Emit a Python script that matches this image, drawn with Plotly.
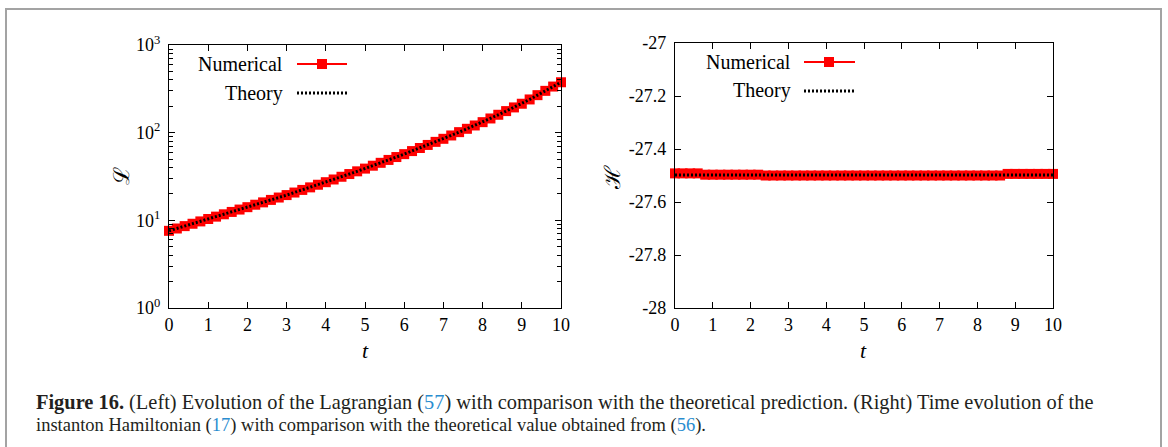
import plotly.graph_objects as go

W, H = 1168, 447

# ---------------- data ----------------
t_vals = [round(0.2 * i, 1) for i in range(51)]
lagrangian_num = [7.59, 8.07, 8.59, 9.14, 9.72, 10.35, 11.02, 11.72, 12.47, 13.27,
                  14.13, 15.07, 16.03, 17.10, 18.20, 19.41, 20.75, 22.23, 23.77, 25.47,
                  27.23, 29.24, 31.41, 33.73, 36.22, 38.90, 41.98, 45.29, 48.87, 52.72,
                  56.89, 61.66, 66.83, 72.44, 78.52, 85.11, 92.90, 101.4, 110.7, 120.8,
                  131.8, 145.2, 160.0, 176.2, 194.1, 213.8, 239.3, 267.9, 299.9, 335.7,
                  375.8]
lagrangian_theory = [7.59, 8.07, 8.59, 9.14, 9.72, 10.35, 11.02, 11.72, 12.47, 13.27,
                     14.13, 15.07, 16.03, 17.10, 18.20, 19.41, 20.75, 22.23, 23.77, 25.47,
                     27.23, 29.24, 31.41, 33.73, 36.22, 38.90, 41.98, 45.29, 48.87, 52.72,
                     56.89, 61.66, 66.83, 72.44, 78.52, 85.11, 92.90, 101.4, 110.7, 120.8,
                     131.8, 145.2, 160.0, 176.2, 194.1, 213.8, 239.3, 267.9, 299.9, 335.7,
                     375.8]
hamiltonian_num = ([-27.492] * 4 + [-27.497] * 8 + [-27.500] * 32 + [-27.494] * 7)
theory_t = [0, 10]
hamiltonian_theory = [-27.498, -27.498]

x_ticks = list(range(0, 11))
left_yticks = [1, 10, 100, 1000]
left_yticktext = ["10<sup>0</sup>", "10<sup>1</sup>", "10<sup>2</sup>", "10<sup>3</sup>"]
right_yticks = [-27, -27.2, -27.4, -27.6, -27.8, -28]
right_yticktext = ["-27", "-27.2", "-27.4", "-27.6", "-27.8", "-28"]

# ---------------- helpers ----------------
def px(x):
    return x / W

def py(y):
    return 1 - y / H

SERIF = "Liberation Serif"
RED = "#ff0000"

fig = go.Figure()

# left panel
fig.add_trace(go.Scatter(x=t_vals, y=lagrangian_num, mode="lines+markers",
                         line=dict(color=RED, width=2),
                         marker=dict(symbol="square", size=10, color=RED),
                         cliponaxis=False, xaxis="x", yaxis="y", showlegend=False))
fig.add_trace(go.Scatter(x=t_vals, y=lagrangian_theory, mode="lines",
                         line=dict(color="black", width=3, dash="2px,2px"),
                         cliponaxis=False, xaxis="x", yaxis="y", showlegend=False))
# right panel
fig.add_trace(go.Scatter(x=t_vals, y=hamiltonian_num, mode="lines+markers",
                         line=dict(color=RED, width=2),
                         marker=dict(symbol="square", size=10, color=RED),
                         cliponaxis=False, xaxis="x2", yaxis="y2", showlegend=False))
fig.add_trace(go.Scatter(x=theory_t, y=hamiltonian_theory, mode="lines",
                         line=dict(color="black", width=3, dash="2px,2px"),
                         cliponaxis=False, xaxis="x2", yaxis="y2", showlegend=False))

tickfont = dict(family=SERIF, size=18, color="black")
common_x = dict(range=[0, 10], tickvals=x_ticks, ticks="inside", ticklen=6,
                tickwidth=1, tickcolor="black", showline=True, linecolor="black",
                linewidth=1.3, mirror="ticks", showgrid=False, zeroline=False,
                tickfont=tickfont, automargin=False)

fig.update_layout(
    width=W, height=H, template="none",
    paper_bgcolor="white", plot_bgcolor="white",
    margin=dict(l=0, r=0, t=0, b=0),
    showlegend=False,
    xaxis=dict(domain=[px(169), px(561)], anchor="y", **common_x),
    yaxis=dict(domain=[py(308), py(45)], anchor="x", type="log", range=[0, 3],
               tickvals=left_yticks, ticktext=left_yticktext, ticks="inside",
               ticklen=6, tickwidth=1, tickcolor="black", showline=True,
               linecolor="black", linewidth=1.3, mirror="ticks", showgrid=False,
               zeroline=False, tickfont=tickfont, automargin=False,
               ticklabelstandoff=4,
               minor=dict(ticks="inside", ticklen=4, tickcolor="black", tickwidth=1,
                          dtick="D1", showgrid=False)),
    xaxis2=dict(domain=[px(675), px(1053)], anchor="y2", **common_x),
    yaxis2=dict(domain=[py(308), py(43)], anchor="x2", range=[-28, -27],
                tickvals=right_yticks, ticktext=right_yticktext, ticks="inside",
                ticklen=6, tickwidth=1, tickcolor="black", showline=True,
                linecolor="black", linewidth=1.3, mirror="ticks", showgrid=False,
                zeroline=False, tickfont=tickfont, automargin=False,
                ticklabelstandoff=4),
)

shapes = []
# outer grey frame (open at bottom)
shapes.append(dict(type="path", xref="paper", yref="paper",
                   path=f"M {px(6)},{py(460)} L {px(6)},{py(9)} L {px(1161)},{py(9)} L {px(1161)},{py(460)}",
                   line=dict(color="#a3a3a3", width=2)))

annotations = []

def legend_block(text_right, y_num, y_th, x0, x1, xm):
    annotations.append(dict(text="Numerical", x=px(text_right), y=py(y_num),
                            xref="paper", yref="paper", xanchor="right",
                            yanchor="middle", showarrow=False,
                            font=dict(family=SERIF, size=20, color="black")))
    annotations.append(dict(text="Theory", x=px(text_right), y=py(y_th),
                            xref="paper", yref="paper", xanchor="right",
                            yanchor="middle", showarrow=False,
                            font=dict(family=SERIF, size=20, color="black")))
    shapes.append(dict(type="line", xref="paper", yref="paper",
                       x0=px(x0), x1=px(x1), y0=py(y_num), y1=py(y_num),
                       line=dict(color=RED, width=2)))
    shapes.append(dict(type="rect", xref="paper", yref="paper",
                       x0=px(xm - 5), x1=px(xm + 5), y0=py(y_num - 5), y1=py(y_num + 5),
                       line=dict(width=0), fillcolor=RED))
    shapes.append(dict(type="line", xref="paper", yref="paper",
                       x0=px(x0), x1=px(x1), y0=py(y_th), y1=py(y_th),
                       line=dict(color="black", width=3, dash="2px,2px")))

legend_block(285, 64, 93, 297, 347, 322)
legend_block(793, 62, 91, 804, 855, 829)

# axis titles
for xc, yc, txt, ang in [(365, 350, "<i>t</i>", 0), (863, 350, "<i>t</i>", 0),
                         (122, 176, "ℒ", -90), (612, 178, "ℋ", -90)]:
    annotations.append(dict(text=txt, x=px(xc), y=py(yc), xref="paper", yref="paper",
                            xanchor="center", yanchor="middle", showarrow=False,
                            textangle=ang,
                            font=dict(family=SERIF, size=22, color="black")))

BLUE = "#2a8ccf"
line1 = ("<b>Figure 16.</b> (Left) Evolution of the Lagrangian "
         f"(<span style='color:{BLUE}'>57</span>) with comparison with the theoretical "
         "prediction. (Right) Time evolution of the")
line2 = (f"instanton Hamiltonian (<span style='color:{BLUE}'>17</span>) with comparison "
         f"with the theoretical value obtained from (<span style='color:{BLUE}'>56</span>).")
for yc, txt, fs in [(402, line1, 20.4), (425, line2, 18.5)]:
    annotations.append(dict(text=txt, x=px(34), y=py(yc), xref="paper", yref="paper",
                            xanchor="left", yanchor="middle", showarrow=False,
                            align="left",
                            font=dict(family=SERIF, size=fs, color="#231f20")))

fig.update_layout(shapes=shapes, annotations=annotations)
fig.write_html("out.html")
